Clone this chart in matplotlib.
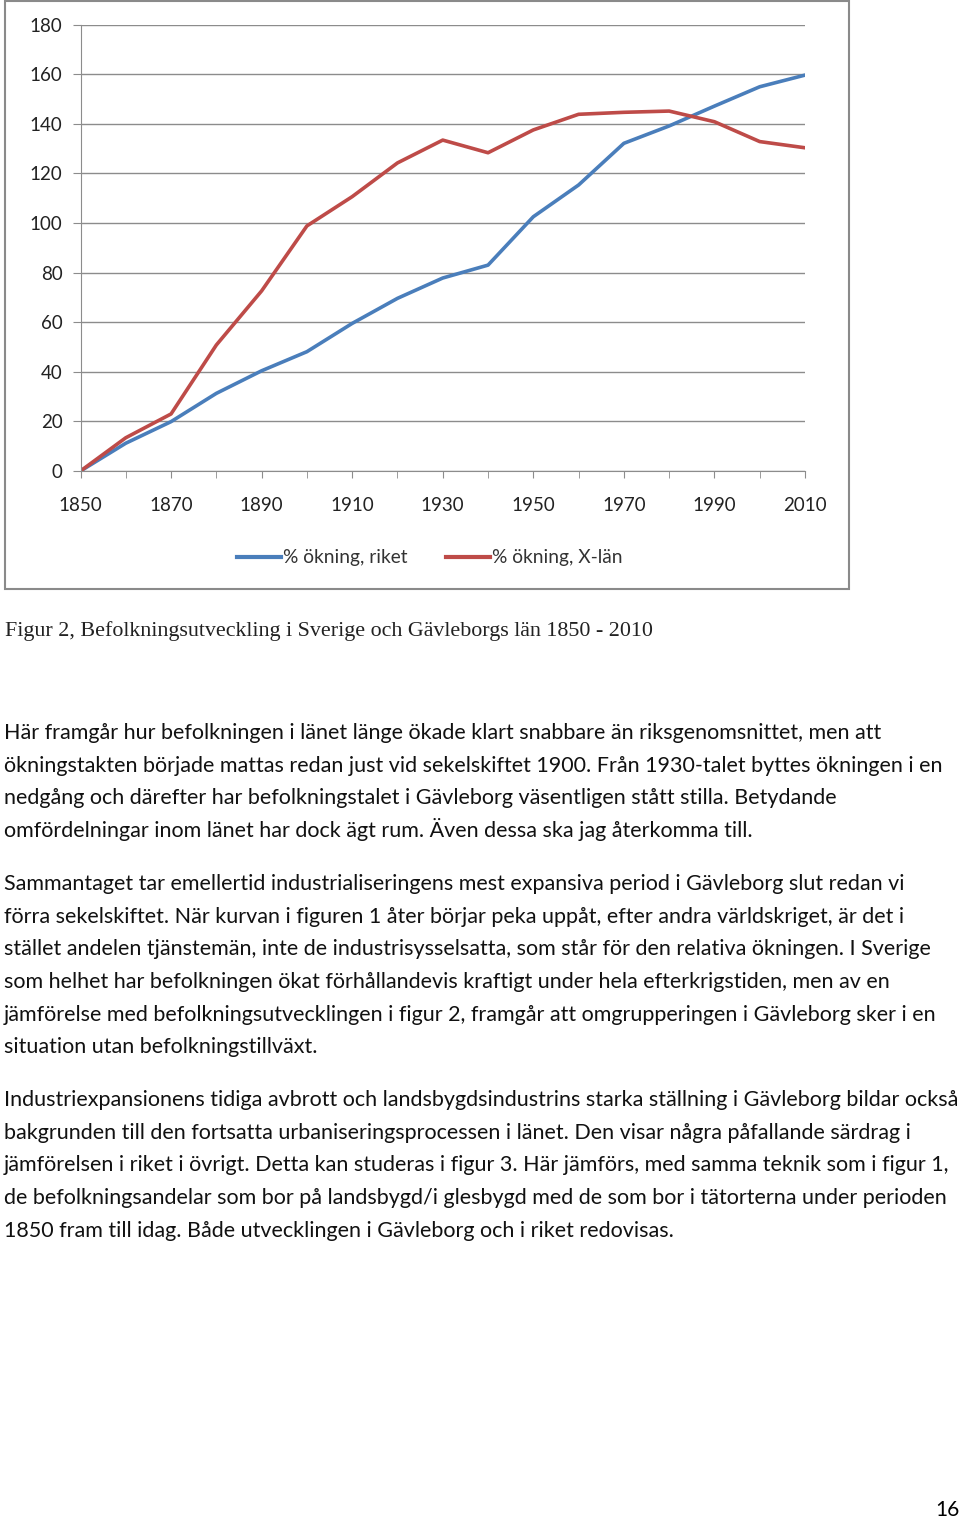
import matplotlib.pyplot as plt
from matplotlib.patches import Rectangle
from matplotlib.lines import Line2D

# data
years = [1850, 1860, 1870, 1880, 1890, 1900, 1910, 1920, 1930,
         1940, 1950, 1960, 1970, 1980, 1990, 2000, 2010]
riket = [0, 11.2, 19.9, 31.3, 40.4, 48.1, 59.5, 69.6, 77.8,
         83.0, 102.5, 115.3, 132.1, 139.1, 147.1, 154.9, 159.6]
xlan = [0, 13.4, 23.0, 50.8, 72.6, 98.8, 110.6, 124.2, 133.4,
        128.3, 137.5, 143.8, 144.6, 145.1, 140.8, 132.8, 130.3]
series_names = ["% ökning, riket", "% ökning, X-län"]
xticks_major = list(range(1850, 2011, 20))
yticks = list(range(0, 181, 20))

caption = "Figur 2, Befolkningsutveckling i Sverige och Gävleborgs län 1850 - 2010"
paragraphs = [
    ["Här framgår hur befolkningen i länet länge ökade klart snabbare än riksgenomsnittet, men att",
     "ökningstakten började mattas redan just vid sekelskiftet 1900. Från 1930-talet byttes ökningen i en",
     "nedgång och därefter har befolkningstalet i Gävleborg väsentligen stått stilla. Betydande",
     "omfördelningar inom länet har dock ägt rum. Även dessa ska jag återkomma till."],
    ["Sammantaget tar emellertid industrialiseringens mest expansiva period i Gävleborg slut redan vi",
     "förra sekelskiftet. När kurvan i figuren 1 åter börjar peka uppåt, efter andra världskriget, är det i",
     "stället andelen tjänstemän, inte de industrisysselsatta, som står för den relativa ökningen. I Sverige",
     "som helhet har befolkningen ökat förhållandevis kraftigt under hela efterkrigstiden, men av en",
     "jämförelse med befolkningsutvecklingen i figur 2, framgår att omgrupperingen i Gävleborg sker i en",
     "situation utan befolkningstillväxt."],
    ["Industriexpansionens tidiga avbrott och landsbygdsindustrins starka ställning i Gävleborg bildar också",
     "bakgrunden till den fortsatta urbaniseringsprocessen i länet. Den visar några påfallande särdrag i",
     "jämförelsen i riket i övrigt. Detta kan studeras i figur 3. Här jämförs, med samma teknik som i figur 1,",
     "de befolkningsandelar som bor på landsbygd/i glesbygd med de som bor i tätorterna under perioden",
     "1850 fram till idag. Både utvecklingen i Gävleborg och i riket redovisas."],
]
page_no = "16"

W, H = 960, 1519
blue = "#4a7ebb"
red = "#be4b48"
grid = "#8c8c8c"
sans = "Lato"

fig = plt.figure(figsize=(W / 100, H / 100), dpi=100)

def fx(px):
    return px / W

def fy(py):
    return 1 - py / H

# chart frame
fig.patches.append(Rectangle((fx(5), fy(589)), fx(844), 588 / H, transform=fig.transFigure,
                             fill=False, edgecolor="#8a8a8a", linewidth=1.5))

ax = fig.add_axes([fx(80.5), fy(471), fx(724.5), 446.5 / H])
ax.plot(years, riket, color=blue, linewidth=2.6, solid_capstyle="round")
ax.plot(years, xlan, color=red, linewidth=2.6, solid_capstyle="round")
ax.set_xlim(1850, 2010)
ax.set_ylim(0, 180)
ax.set_yticks(yticks)
ax.set_xticks(xticks_major)
ax.set_xticks(range(1850, 2011, 10), minor=True)
ax.yaxis.grid(True, color=grid, linewidth=1)
ax.set_axisbelow(True)
for s in ["top", "right"]:
    ax.spines[s].set_visible(False)
ax.spines["left"].set_color(grid)
ax.spines["bottom"].set_color(grid)
ax.tick_params(axis="y", length=6, color=grid, labelsize=13.5, pad=7, labelcolor="#222222")
ax.tick_params(axis="x", which="both", length=5, color=grid, labelsize=13.5, pad=14,
               labelcolor="#222222")
for lab in ax.get_xticklabels() + ax.get_yticklabels():
    lab.set_family(sans)

handles = [Line2D([], [], color=blue, linewidth=3), Line2D([], [], color=red, linewidth=3)]
fig.legend(handles, series_names, loc="center", bbox_to_anchor=(fx(430), fy(558)), ncol=2,
           frameon=False, prop={"family": sans, "size": 13.8}, handlelength=2.3,
           handletextpad=0.1, columnspacing=2.0, labelcolor="#333333")

# caption
fig.text(fx(5), fy(636), caption, family="Liberation Serif", fontsize=15.8, color="#222222",
         va="baseline")

# body text
y = 739
for para in paragraphs:
    for line in para:
        fig.text(fx(4), fy(y), line, family=sans, fontsize=15.5, color="#111111", va="baseline")
        y += 32.7
    y += 20

fig.text(fx(960), fy(1516), page_no, family=sans, fontsize=15, ha="right", va="baseline")

fig.savefig("out.png", dpi=100)
